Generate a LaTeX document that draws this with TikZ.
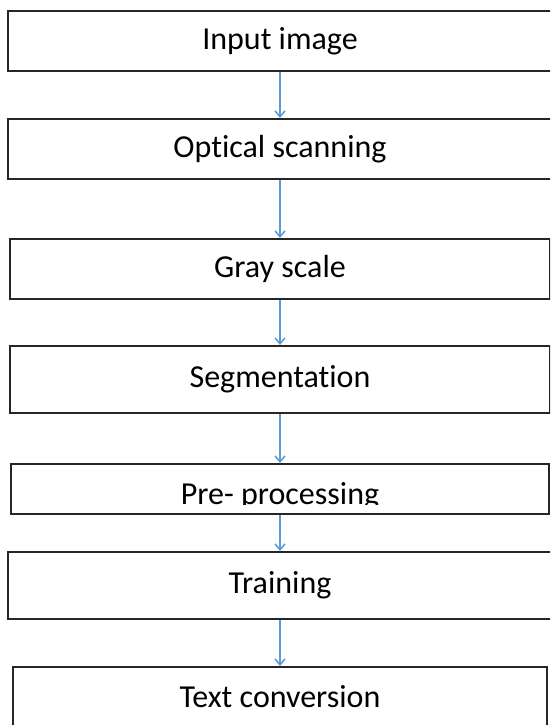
\documentclass[tikz,border=0pt]{standalone}
\usepackage{fontspec}
\setmainfont[Ligatures=NoCommon]{Carlito}
\usetikzlibrary{positioning, arrows.meta}
\definecolor{flowblue}{HTML}{5B9BD5}

\begin{document}
\begin{tikzpicture}[
    x=1pt, y=-1pt,
    stage/.style={rectangle, draw=black!85, line width=2pt, fill=white, font=\fontsize{32}{38}\selectfont, inner sep=0pt},
    arr/.style={-{Straight Barb[length=6pt, width=10pt]}, draw=flowblue, line width=1.5pt},
  ]
    \useasboundingbox (0,0) rectangle (550,725);
    \clip (0,0) rectangle (550,725);

    % Processing stages, top to bottom
    \node[stage, minimum width=544pt, minimum height=60pt] (inp) at (280,41) {Input image};
    \node[stage, minimum width=544pt, minimum height=60pt] (scan) at (280,149) {Optical scanning};
    \node[stage, minimum width=540pt, minimum height=60pt] (gray) at (280,269) {Gray scale};
    \node[stage, minimum width=540pt, minimum height=67pt] (seg) at (280,379.5) {Segmentation};
    \node[stage, minimum width=538pt, minimum height=50pt] (pre) at (280,489) {};
    \node[stage, minimum width=544pt, minimum height=67pt] (train) at (280,585.5) {Training};
    \node[stage, minimum width=534pt, minimum height=60pt] (conv) at (280,697) {Text conversion};

    % Pre-processing label sits low and gets cut off
    \begin{scope}
      \clip (pre.north west) rectangle ([yshift=11pt]pre.south east);
      \node[font=\fontsize{32}{38}\selectfont, inner sep=0pt] (prelbl) at (280,496) {Pre- processing};
    \end{scope}

    % Arrows
    \draw[arr] (inp) -- (scan);
    \draw[arr] (scan) -- (gray);
    \draw[arr] (gray) -- (seg);
    \draw[arr] (seg) -- (pre);
    \draw[arr] (pre) -- (train);
    \draw[arr] (train) -- (conv);
\end{tikzpicture}
\end{document}
